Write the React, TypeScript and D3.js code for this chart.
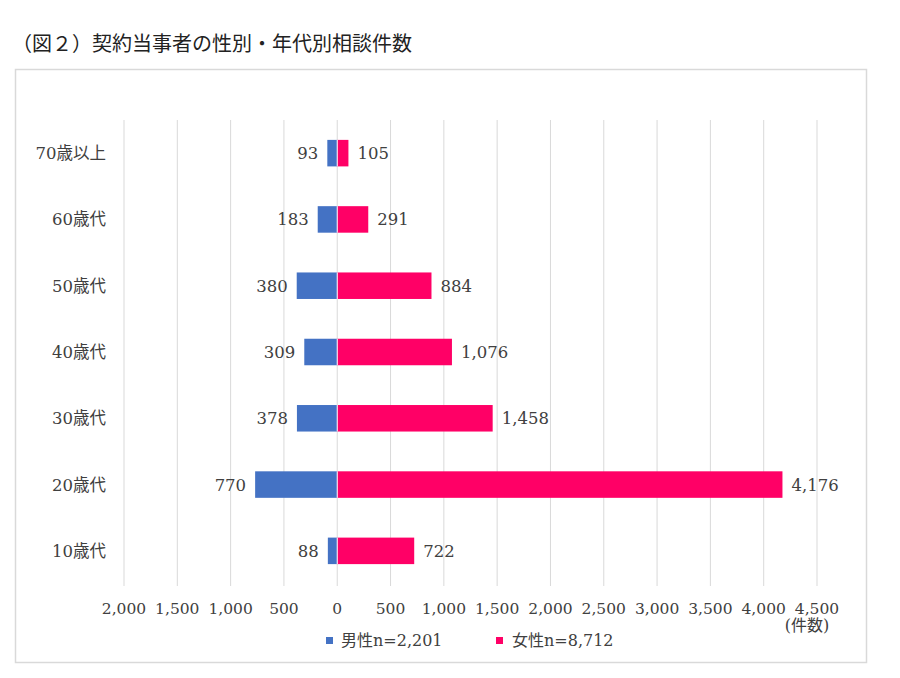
import React from "react";
import * as d3 from "d3";

const categories = ["70歳以上", "60歳代", "50歳代", "40歳代", "30歳代", "20歳代", "10歳代"];
const maleValues = [93, 183, 380, 309, 378, 770, 88];
const femaleValues = [105, 291, 884, 1076, 1458, 4176, 722];
const tickValues = [-2000, -1500, -1000, -500, 0, 500, 1000, 1500, 2000, 2500, 3000, 3500, 4000, 4500];
const seriesNames = ["男性n=2,201", "女性n=8,712"];
const title = "（図２）契約当事者の性別・年代別相談件数";
const unitLabel = "(件数)";

const W = 900;
const H = 678;
const MALE = "#4472C4";
const FEMALE = "#FF0066";
const SERIF = "'DejaVu Serif', 'Noto Sans CJK JP', serif";
const SANS = "'Noto Sans CJK JP', 'Noto Sans', sans-serif";
const TEXT = "#404040";

export default function App() {
  const x = d3.scaleLinear().domain([-2000, 4500]).range([124, 817]);
  const y = d3.scaleBand<string>().domain(categories).range([120, 584]).paddingInner(0.6).paddingOuter(0.3);
  const bh = y.bandwidth();
  const fmt = d3.format(",");
  return (
    <svg width={W} height={H} style={{ position: "absolute", left: 0, top: 0 }}>
      <rect x={0} y={0} width={W} height={H} fill="#fff" />
      <text x={12} y={51} fontFamily={SANS} fontSize={20} fill="#222">{title}</text>
      <rect x={15.5} y={69.5} width={851} height={593} fill="#fff" stroke="#d9d9d9" strokeWidth={1.5} />
      {tickValues.map((t) => (
        <line key={t} x1={x(t)} x2={x(t)} y1={120} y2={586} stroke="#d9d9d9" strokeWidth={1} />
      ))}
      {categories.map((c, i) => {
        const yc = (y(c) as number);
        const cy = yc + bh / 2;
        return (
          <g key={c}>
            <rect x={x(-maleValues[i])} y={yc} width={x(0) - x(-maleValues[i])} height={bh} fill={MALE} />
            <rect x={x(0)} y={yc} width={x(femaleValues[i]) - x(0)} height={bh} fill={FEMALE} />
            <line x1={x(0)} x2={x(0)} y1={yc} y2={yc + bh} stroke="#fff" strokeWidth={1} />
            <text x={x(-maleValues[i]) - 9} y={cy} dy="0.36em" textAnchor="end" fontFamily={SERIF} fontSize={16.5} fill={TEXT}>{fmt(maleValues[i])}</text>
            <text x={x(femaleValues[i]) + 9} y={cy} dy="0.36em" textAnchor="start" fontFamily={SERIF} fontSize={16.5} fill={TEXT}>{fmt(femaleValues[i])}</text>
            <text x={106} y={cy} dy="0.36em" textAnchor="end" fontFamily={SERIF} fontSize={16.5} fill={TEXT}>{c}</text>
          </g>
        );
      })}
      {tickValues.map((t) => (
        <text key={"l" + t} x={x(t)} y={614} textAnchor="middle" fontFamily={SERIF} fontSize={15.5} fill={TEXT}>{fmt(Math.abs(t))}</text>
      ))}
      <text x={807} y={631} textAnchor="middle" fontFamily={SERIF} fontSize={16} fill={TEXT}>{unitLabel}</text>
      <rect x={326} y={637} width={7} height={7} fill={MALE} />
      <text x={341} y={646} fontFamily={SERIF} fontSize={16} fill={TEXT}>{seriesNames[0]}</text>
      <rect x={496} y={637} width={7} height={7} fill={FEMALE} />
      <text x={512} y={646} fontFamily={SERIF} fontSize={16} fill={TEXT}>{seriesNames[1]}</text>
    </svg>
  );
}
